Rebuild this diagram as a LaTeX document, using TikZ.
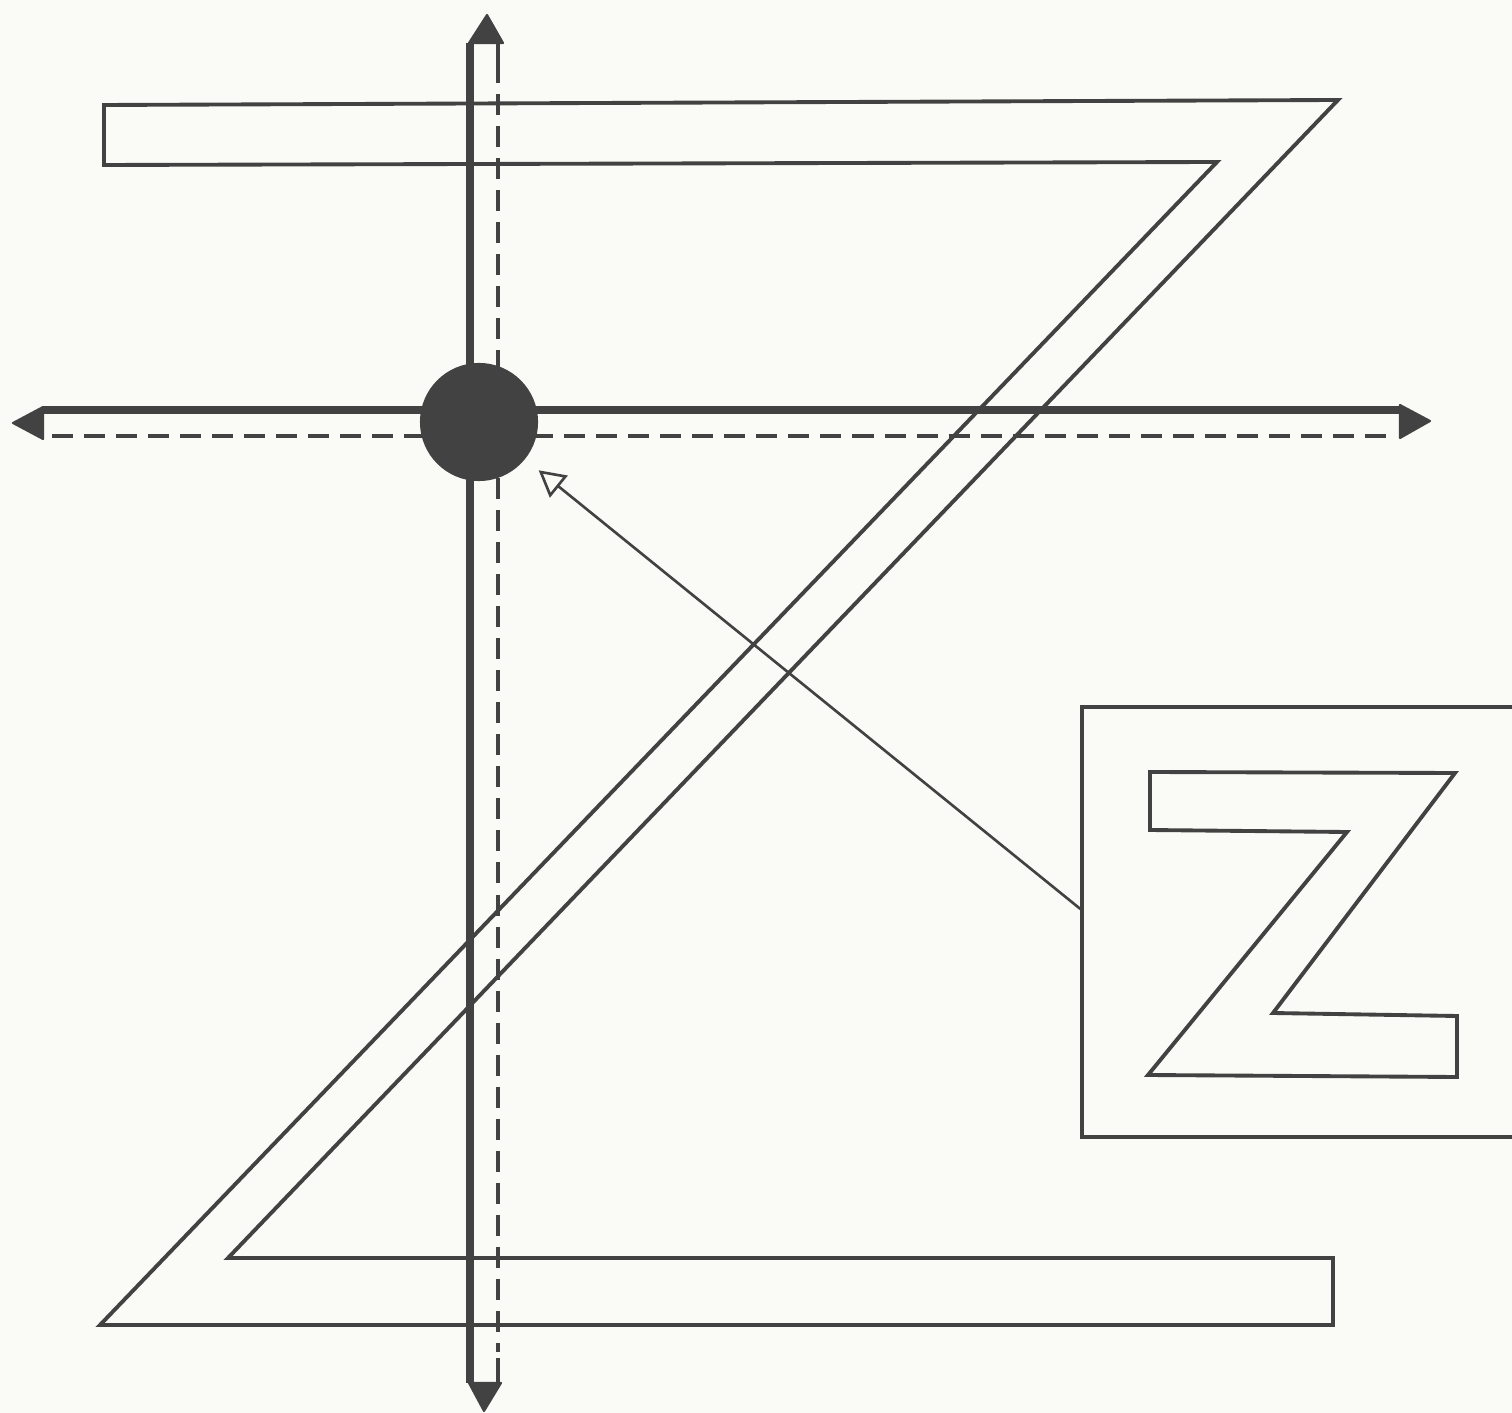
\documentclass[tikz,border=0pt]{standalone}
\usepackage{xcolor}
\usetikzlibrary{arrows.meta,positioning,calc}
\definecolor{ink}{RGB}{66,66,66}
\definecolor{paper}{RGB}{250,250,246}

\begin{document}
\begin{tikzpicture}[
    x=0.01cm, y=-0.01cm,
    outline/.style={draw=ink, line width=1.1pt, line join=miter},
    axis/.style={draw=ink, line width=2.2pt},
    axisdash/.style={draw=ink, line width=1.1pt, dash pattern=on 0.21cm off 0.11cm},
    tip/.style={fill=ink, draw=ink, line width=0.6pt, line join=round},
    dot/.style={circle, fill=ink, minimum size=1.18cm, inner sep=0pt},
    framebox/.style={draw=ink, line width=1.1pt, rectangle, minimum width=4.77cm, minimum height=4.29cm, inner sep=0pt},
    pointer/.style={draw=ink, line width=0.75pt, -{Triangle[open, length=2.6mm, width=2.8mm, line width=0.75pt]}}
]

% --- Page and clipping ---
\fill[paper] (0,0) rectangle (1512,1413);
\useasboundingbox (0,0) rectangle (1512,1413);
\clip (0,0) rectangle (1512,1413);

% --- Big Z outline ---
\draw[outline] (104,105) -- (1338,100) -- (228,1258) -- (1333,1258)
    -- (1333,1325) -- (100,1325) -- (1217,162) -- (104,165) -- cycle;

% --- Vertical axis (solid side, dashed side, two heads) ---
\draw[axis] (470,43) -- (470,1383);
\draw[axisdash] (498,62) -- (498,1352);
\draw[draw=ink, line width=1.1pt] (498,43) -- (498,62);
\draw[draw=ink, line width=1.1pt] (498,1358) -- (498,1383);
\filldraw[tip] (469,43) -- (487,15) -- (503,43) -- cycle;
\filldraw[tip] (469,1383) -- (484,1411) -- (501,1383) -- cycle;

% --- Horizontal axis (solid side, dashed side, two heads) ---
\draw[axis] (43,410) -- (1400,410);
\draw[axisdash] (52,436) -- (1390,436);
\filldraw[tip] (43,407) -- (13,423) -- (43,439) -- cycle;
\filldraw[tip] (1400,405) -- (1430,421) -- (1400,438) -- cycle;

% --- Origin marker ---
\node[dot] (origin) at (479,422) {};

% --- Inset box with small Z ---
\node[framebox] (zbox) at (1321,922) {};
\draw[outline] (1150,772) -- (1455,773) -- (1273,1013) -- (1457,1016)
    -- (1457,1077) -- (1148,1075) -- (1347,832) -- (1150,830) -- cycle;

% --- Pointer from inset to origin ---
\coordinate (ptr) at ($(zbox.north west)!0.47!(zbox.south west)$);
\draw[pointer, shorten >=0.17cm] (ptr) -- (origin);
\end{tikzpicture}
\end{document}
